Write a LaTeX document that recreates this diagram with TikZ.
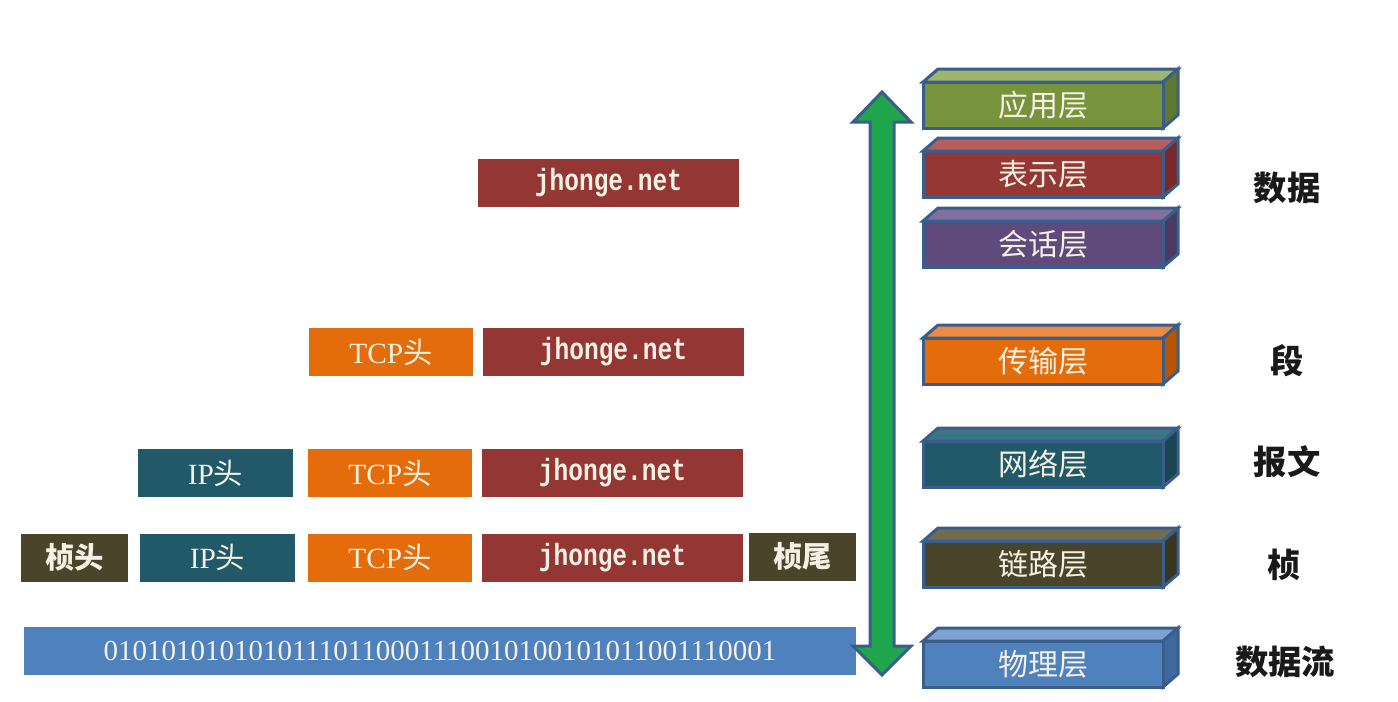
\documentclass[tikz,border=0pt]{standalone}
\usepackage{fontspec}
\setmainfont{Liberation Serif}
\newfontfamily\cjk{Noto Sans CJK SC}
\newfontfamily\netfont[FakeStretch=0.8]{Liberation Mono}

\definecolor{edgeblue}{HTML}{3A5E8C}
\definecolor{txtwhite}{HTML}{F4F1E4}
\definecolor{arrowgreen}{HTML}{1FA54B}
\definecolor{datred}{HTML}{943634}
\definecolor{tcporange}{HTML}{E46C0A}
\definecolor{ipteal}{HTML}{215968}
\definecolor{framebrown}{HTML}{4A452A}
\definecolor{bitblue}{HTML}{4F81BD}
% layer faces: front / top / side
\definecolor{appfront}{HTML}{77933C}\definecolor{apptop}{HTML}{9DB66B}\definecolor{appside}{HTML}{5E7A2E}
\definecolor{prefront}{HTML}{953735}\definecolor{pretop}{HTML}{B55E5B}\definecolor{preside}{HTML}{792A28}
\definecolor{sesfront}{HTML}{604A7B}\definecolor{sestop}{HTML}{8470A0}\definecolor{sesside}{HTML}{4C3A62}
\definecolor{trafront}{HTML}{E46C0A}\definecolor{tratop}{HTML}{EE8A42}\definecolor{traside}{HTML}{B85608}
\definecolor{netfront}{HTML}{215968}\definecolor{nettop}{HTML}{3D7585}\definecolor{netside}{HTML}{1A4652}
\definecolor{lnkfront}{HTML}{4A452A}\definecolor{lnktop}{HTML}{716B50}\definecolor{lnkside}{HTML}{393520}
\definecolor{phyfront}{HTML}{4F81BD}\definecolor{phytop}{HTML}{7FA3D1}\definecolor{physide}{HTML}{3D69A0}

\tikzset{every picture/.style={line width=0.75pt}}
\tikzset{
  pkt/.style={rectangle, inner sep=0pt, minimum height=36pt, text=txtwhite, font=\fontsize{22}{24}\selectfont},
  netbox/.style={pkt, fill=datred, minimum width=195.75pt, font=\netfont\bfseries\fontsize{23}{25}\selectfont},
  tcpbox/.style={pkt, fill=tcporange, minimum width=123pt},
  ipbox/.style={pkt, fill=ipteal, minimum width=116.25pt},
  framebox/.style={pkt, fill=framebrown, minimum width=80.25pt, font=\cjk\bfseries\fontsize{22}{24}\selectfont},
  layer/.style={rectangle, draw=edgeblue, line width=2.25pt, inner sep=0pt, minimum width=180pt, minimum height=34.5pt, text=txtwhite, font=\cjk\fontsize{22.5}{24}\selectfont},
  face/.style={draw=edgeblue, line width=2.25pt, line join=miter},
  unitlabel/.style={text=black!90, font=\cjk\bfseries\fontsize{25}{27}\selectfont},
}

\begin{document}
\begin{tikzpicture}[x=0.75pt,y=0.75pt,yscale=-1,xscale=1]
\useasboundingbox (0,0) rectangle (1398,701);

% Row 1: data
\draw (608.5,182.5) node [netbox] (dat1) {jhonge.net};

% Row 2: segment
\draw (391,352) node [tcpbox] (tcp2) {TCP{\cjk 头}};
\draw (613.5,352) node [netbox] (dat2) {jhonge.net};

% Row 3: packet
\draw (215.5,473) node [ipbox] (ip3) {IP{\cjk 头}};
\draw (390,473) node [tcpbox] (tcp3) {TCP{\cjk 头}};
\draw (612.5,473) node [netbox] (dat3) {jhonge.net};

% Row 4: frame
\draw (74.5,557.5) node [framebox] (fh4) {桢头};
\draw (217.5,557.5) node [ipbox] (ip4) {IP{\cjk 头}};
\draw (390,557.5) node [tcpbox] (tcp4) {TCP{\cjk 头}};
\draw (612.5,557.5) node [netbox] (dat4) {jhonge.net};
\draw (802.5,556.5) node [framebox] (ft4) {桢尾};

% Row 5: bit stream
\draw (440,651) node [pkt, fill=bitblue, minimum width=624pt, font=\fontsize{21.75}{24}\selectfont] (bits) {01010101010101110110001110010100101011001110001};

%Shape: Double Arrow
\draw [face, fill=arrowgreen] (882,92) -- (911,122) -- (894,122) -- (894,646) -- (911,646) -- (882,675) -- (853,646) -- (870,646) -- (870,122) -- (853,122) -- cycle ;

%3D box: application
\draw [face, fill=apptop] (923,82) -- (938,69) -- (1178,69) -- (1163,82) -- cycle ;
\draw [face, fill=appside] (1163,82) -- (1178,69) -- (1178,115) -- (1163,128) -- cycle ;
\draw (1043,105) node [layer, fill=appfront] (app) {应用层};
%3D box: presentation
\draw [face, fill=pretop] (923,151) -- (938,138) -- (1178,138) -- (1163,151) -- cycle ;
\draw [face, fill=preside] (1163,151) -- (1178,138) -- (1178,184) -- (1163,197) -- cycle ;
\draw (1043,174) node [layer, fill=prefront] (pre) {表示层};
%3D box: session
\draw [face, fill=sestop] (923,221) -- (938,208) -- (1178,208) -- (1163,221) -- cycle ;
\draw [face, fill=sesside] (1163,221) -- (1178,208) -- (1178,254) -- (1163,267) -- cycle ;
\draw (1043,244) node [layer, fill=sesfront] (ses) {会话层};
%3D box: transport
\draw [face, fill=tratop] (923,338) -- (938,325) -- (1178,325) -- (1163,338) -- cycle ;
\draw [face, fill=traside] (1163,338) -- (1178,325) -- (1178,371) -- (1163,384) -- cycle ;
\draw (1043,361) node [layer, fill=trafront] (tra) {传输层};
%3D box: network
\draw [face, fill=nettop] (923,441) -- (938,428) -- (1178,428) -- (1163,441) -- cycle ;
\draw [face, fill=netside] (1163,441) -- (1178,428) -- (1178,474) -- (1163,487) -- cycle ;
\draw (1043,464) node [layer, fill=netfront] (net) {网络层};
%3D box: link
\draw [face, fill=lnktop] (923,541) -- (938,528) -- (1178,528) -- (1163,541) -- cycle ;
\draw [face, fill=lnkside] (1163,541) -- (1178,528) -- (1178,574) -- (1163,587) -- cycle ;
\draw (1043,564) node [layer, fill=lnkfront] (lnk) {链路层};
%3D box: physical
\draw [face, fill=phytop] (923,641) -- (938,628) -- (1178,628) -- (1163,641) -- cycle ;
\draw [face, fill=physide] (1163,641) -- (1178,628) -- (1178,674) -- (1163,687) -- cycle ;
\draw (1043,664) node [layer, fill=phyfront] (phy) {物理层};

% Text Node
\draw (1287,188) node [unitlabel] (udata) {数据};
% Text Node
\draw (1287,361) node [unitlabel] (useg) {段};
% Text Node
\draw (1287,462) node [unitlabel] (upkt) {报文};
% Text Node
\draw (1284,565) node [unitlabel] (ufrm) {桢};
% Text Node
\draw (1285,662) node [unitlabel] (ubits) {数据流};

\end{tikzpicture}
\end{document}
